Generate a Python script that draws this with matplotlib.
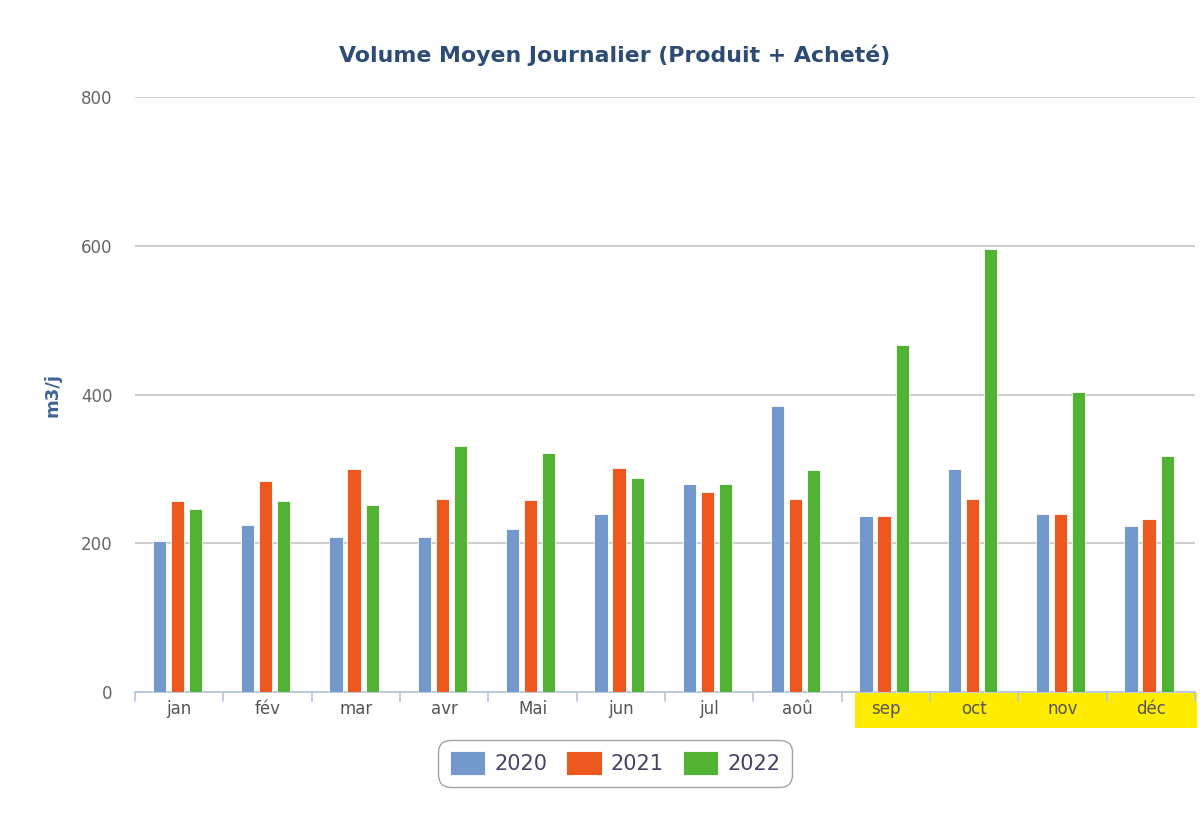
import matplotlib
matplotlib.use("Agg")
import matplotlib.pyplot as plt
import numpy as np
from matplotlib.patches import Rectangle

months = ["jan", "fév", "mar", "avr", "Mai", "jun", "jul", "aoû", "sep", "oct", "nov", "déc"]
years = ["2020", "2021", "2022"]
v2020 = [203, 225, 209, 209, 219, 239, 280, 384, 236, 300, 239, 223]
v2021 = [257, 284, 300, 260, 258, 301, 269, 260, 236, 260, 239, 233]
v2022 = [246, 257, 252, 331, 322, 288, 280, 298, 467, 596, 403, 317]
colors = ["#7399CC", "#EC581E", "#52B234"]
yticks = [0, 200, 400, 600, 800]

plt.rcParams['font.family'] = ['DejaVu Sans']
fig = plt.figure(figsize=(12.04, 8.15), dpi=100)
ax = fig.add_axes([0.1121, 0.1509, 0.8804, 0.7301])
ax.patch.set_alpha(0)

x = np.arange(len(months))
w = 0.15
step = 0.205
for i, (vals, c, lab) in enumerate(zip([v2020, v2021, v2022], colors, years)):
    ax.bar(x + (i - 1) * step - 0.02, vals, width=w, color=c, edgecolor="white",
           linewidth=0.6, label=lab, zorder=3)

ax.set_xlim(-0.5, len(months) - 0.5)
ax.set_ylim(0, 800)
ax.set_yticks(yticks)
ax.set_yticklabels([str(t) for t in yticks], color="#666666", fontsize=12)
ax.yaxis.grid(True, color="#C8C8C8", linewidth=1.3, zorder=0)
ax.set_axisbelow(True)
ax.tick_params(axis="y", length=0, pad=16)

ax.set_xticks(x)
ax.set_xticklabels(months, color="#555555", fontsize=12)
ax.set_xticks(np.arange(-0.5, len(months), 1.0), minor=True)
ax.tick_params(axis="x", which="major", length=0, pad=6)
ax.tick_params(axis="x", which="minor", length=7, color="#B7C7DE", width=1.2)

for s in ["top", "right", "left"]:
    ax.spines[s].set_visible(False)
ax.spines["bottom"].set_color("#B7C7DE")
ax.spines["bottom"].set_linewidth(1.3)

ax.set_ylabel("m3/j", color="#3C6696", fontsize=13, fontweight="bold", labelpad=14)

fig.text(0.5108, 0.932, "Volume Moyen Journalier (Produit + Acheté)", ha="center", va="center",
         fontsize=15.8, fontweight="bold", color="#2C4C74")

# yellow highlight behind sep-déc labels
rect = Rectangle((855 / 1204, 1 - 728 / 815), (1197 - 855) / 1204, (728 - 693) / 815,
                 transform=fig.transFigure, facecolor="#FFED00", edgecolor="none", zorder=-1)
fig.patches.append(rect)

leg = fig.legend(loc="center", bbox_to_anchor=(0.5108, 0.0637), ncol=3, frameon=True,
                 fontsize=15, handlelength=1.7, handleheight=1.4, columnspacing=0.9,
                 handletextpad=0.45, borderpad=0.55, fancybox=True)
leg.get_frame().set_edgecolor("#8C8C8C")
leg.get_frame().set_linewidth(1.0)
leg.get_frame().set_boxstyle("round", pad=0, rounding_size=0.6)
for t in leg.get_texts():
    t.set_color("#444466")

fig.savefig("out.png", dpi=100, facecolor="white")
